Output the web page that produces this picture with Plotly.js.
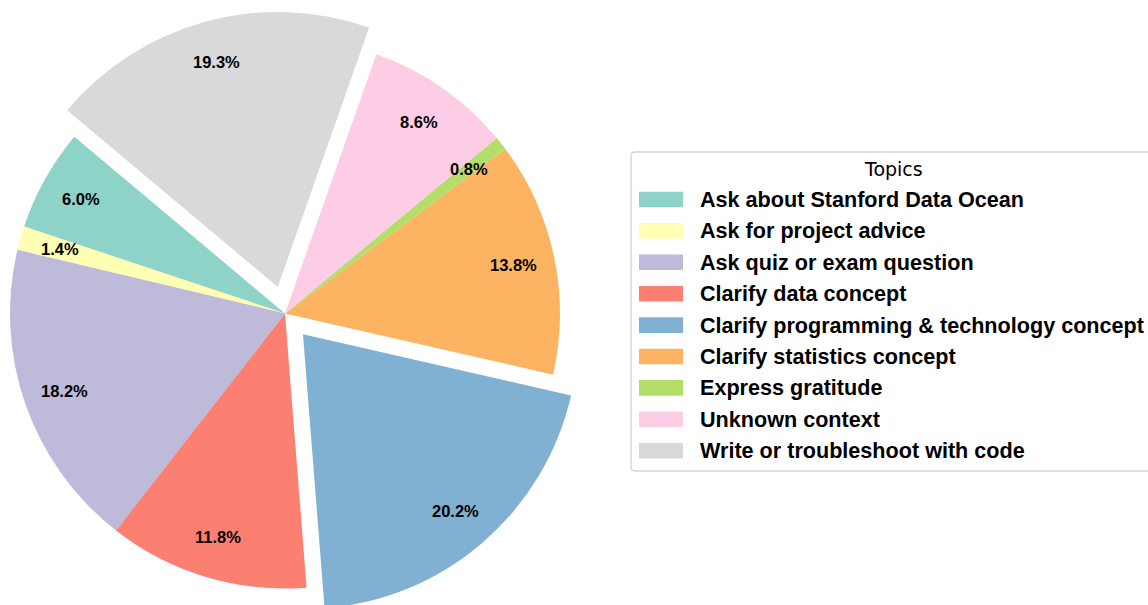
<!DOCTYPE html>
<html>
<head>
<meta charset="utf-8">
<script src="https://cdn.plot.ly/plotly-3.0.1.min.js"></script>
<style>
  html, body { margin: 0; padding: 0; overflow: hidden; background: #fff; width: 1148px; height: 605px; }
  #chart { position: absolute; left: -20px; top: 0px; width: 1168px; height: 616px; }
</style>
</head>
<body>
<div id="chart"></div>
<script>
// ---- data ----
const topics = [
  "Ask about Stanford Data Ocean",
  "Ask for project advice",
  "Ask quiz or exam question",
  "Clarify data concept",
  "Clarify programming & technology concept",
  "Clarify statistics concept",
  "Express gratitude",
  "Unknown context",
  "Write or troubleshoot with code"
];
const shares = [6.0, 1.4, 18.2, 11.8, 20.2, 13.8, 0.8, 8.6, 19.3];
const explode = [0, 0, 0, 0, 0.1, 0, 0, 0, 0.1];
const colors = ["#8dd3c7", "#ffffb3", "#bebada", "#fb8072", "#80b1d3",
                "#fdb462", "#b3de69", "#fccde5", "#d9d9d9"];
const legendTitle = "Topics";

// ---- geometry ----
const FIG_W = 1168, FIG_H = 616, OFF_X = -20;
const M = {l: 0, r: 0, t: 11, b: 0};
const plotW = FIG_W - M.l - M.r, plotH = FIG_H - M.t - M.b;
const domX = [0, 610 / plotW];
const START_ANGLE = 140;      // degrees, counterclockwise from 3 o'clock
const PCT_DIST = 0.85;

const total = shares.reduce((a, b) => a + b, 0);
const maxPull = Math.max(...explode);
const rx = plotW * (domX[1] - domX[0]) / 2, ry = plotH / 2;
const R = Math.min(rx, ry) / (1 + maxPull);
const cxS = OFF_X + M.l + plotW * (domX[0] + domX[1]) / 2;
const cyS = M.t + plotH / 2;

const px = sx => (sx - OFF_X - M.l) / plotW;
const py = sy => 1 - (sy - M.t) / plotH;

// plotly: counterclockwise pie, first slice lies clockwise of the rotation angle
const rotation = 90 - START_ANGLE - shares[0] / total * 360;

const annotations = [];
const shapes = [];

// percentage labels
let cum = 0;
shares.forEach((v, i) => {
  const mid = (START_ANGLE + (cum + v / 2) / total * 360) * Math.PI / 180;
  cum += v;
  const d = (explode[i] + PCT_DIST) * R;
  annotations.push({
    xref: 'paper', yref: 'paper',
    x: px(cxS + d * Math.cos(mid)), y: py(cyS - d * Math.sin(mid)),
    xanchor: 'center', yanchor: 'middle', showarrow: false,
    text: (v / total * 100).toFixed(1) + '%',
    font: {family: 'Liberation Sans, Arial, sans-serif', size: 16.5, color: '#000', weight: 'bold'}
  });
});

// legend (drawn as layout items)
const LG = {left: 631, top: 152, bottom: 471, right: 1160, rad: 4,
            swX0: 639, swX1: 683, swH: 15.6, textX: 698.5, row0: 199.5, step: 31.4,
            titleX: 893, titleY: 169};
{
  const L = px(LG.left), Rr = px(LG.right), T = py(LG.top), B = py(LG.bottom);
  const rdx = LG.rad / plotW, rdy = LG.rad / plotH;
  const path = `M${L + rdx},${T} L${Rr - rdx},${T} Q${Rr},${T} ${Rr},${T - rdy} ` +
               `L${Rr},${B + rdy} Q${Rr},${B} ${Rr - rdx},${B} L${L + rdx},${B} ` +
               `Q${L},${B} ${L},${B + rdy} L${L},${T - rdy} Q${L},${T} ${L + rdx},${T} Z`;
  shapes.push({type: 'path', xref: 'paper', yref: 'paper', path: path,
               fillcolor: 'rgba(255,255,255,0.8)', line: {color: '#d3d3d3', width: 1.3}});
}
annotations.push({
  xref: 'paper', yref: 'paper', x: px(LG.titleX), y: py(LG.titleY),
  xanchor: 'center', yanchor: 'middle', showarrow: false, text: legendTitle,
  font: {family: 'DejaVu Sans, sans-serif', size: 19, color: '#000'}
});
topics.forEach((t, i) => {
  const yc = LG.row0 + i * LG.step;
  shapes.push({type: 'rect', xref: 'paper', yref: 'paper',
               x0: px(LG.swX0), x1: px(LG.swX1),
               y0: py(yc - LG.swH / 2), y1: py(yc + LG.swH / 2),
               fillcolor: colors[i], line: {width: 0}});
  annotations.push({
    xref: 'paper', yref: 'paper', x: px(LG.textX), y: py(yc),
    xanchor: 'left', yanchor: 'middle', showarrow: false, text: t,
    font: {family: 'Liberation Sans, Arial, sans-serif', size: 21.6, color: '#000', weight: 'bold'}
  });
});

const trace = {
  type: 'pie',
  labels: topics,
  values: shares,
  pull: explode,
  sort: false,
  direction: 'counterclockwise',
  rotation: rotation,
  marker: {colors: colors, line: {width: 0}},
  textinfo: 'none',
  hoverinfo: 'label+percent',
  domain: {x: domX, y: [0, 1]},
  showlegend: false
};

const layout = {
  width: FIG_W, height: FIG_H,
  margin: M,
  paper_bgcolor: '#fff',
  plot_bgcolor: '#fff',
  showlegend: false,
  annotations: annotations,
  shapes: shapes
};

Plotly.newPlot('chart', [trace], layout, {displayModeBar: false, staticPlot: true});
</script>
</body>
</html>
